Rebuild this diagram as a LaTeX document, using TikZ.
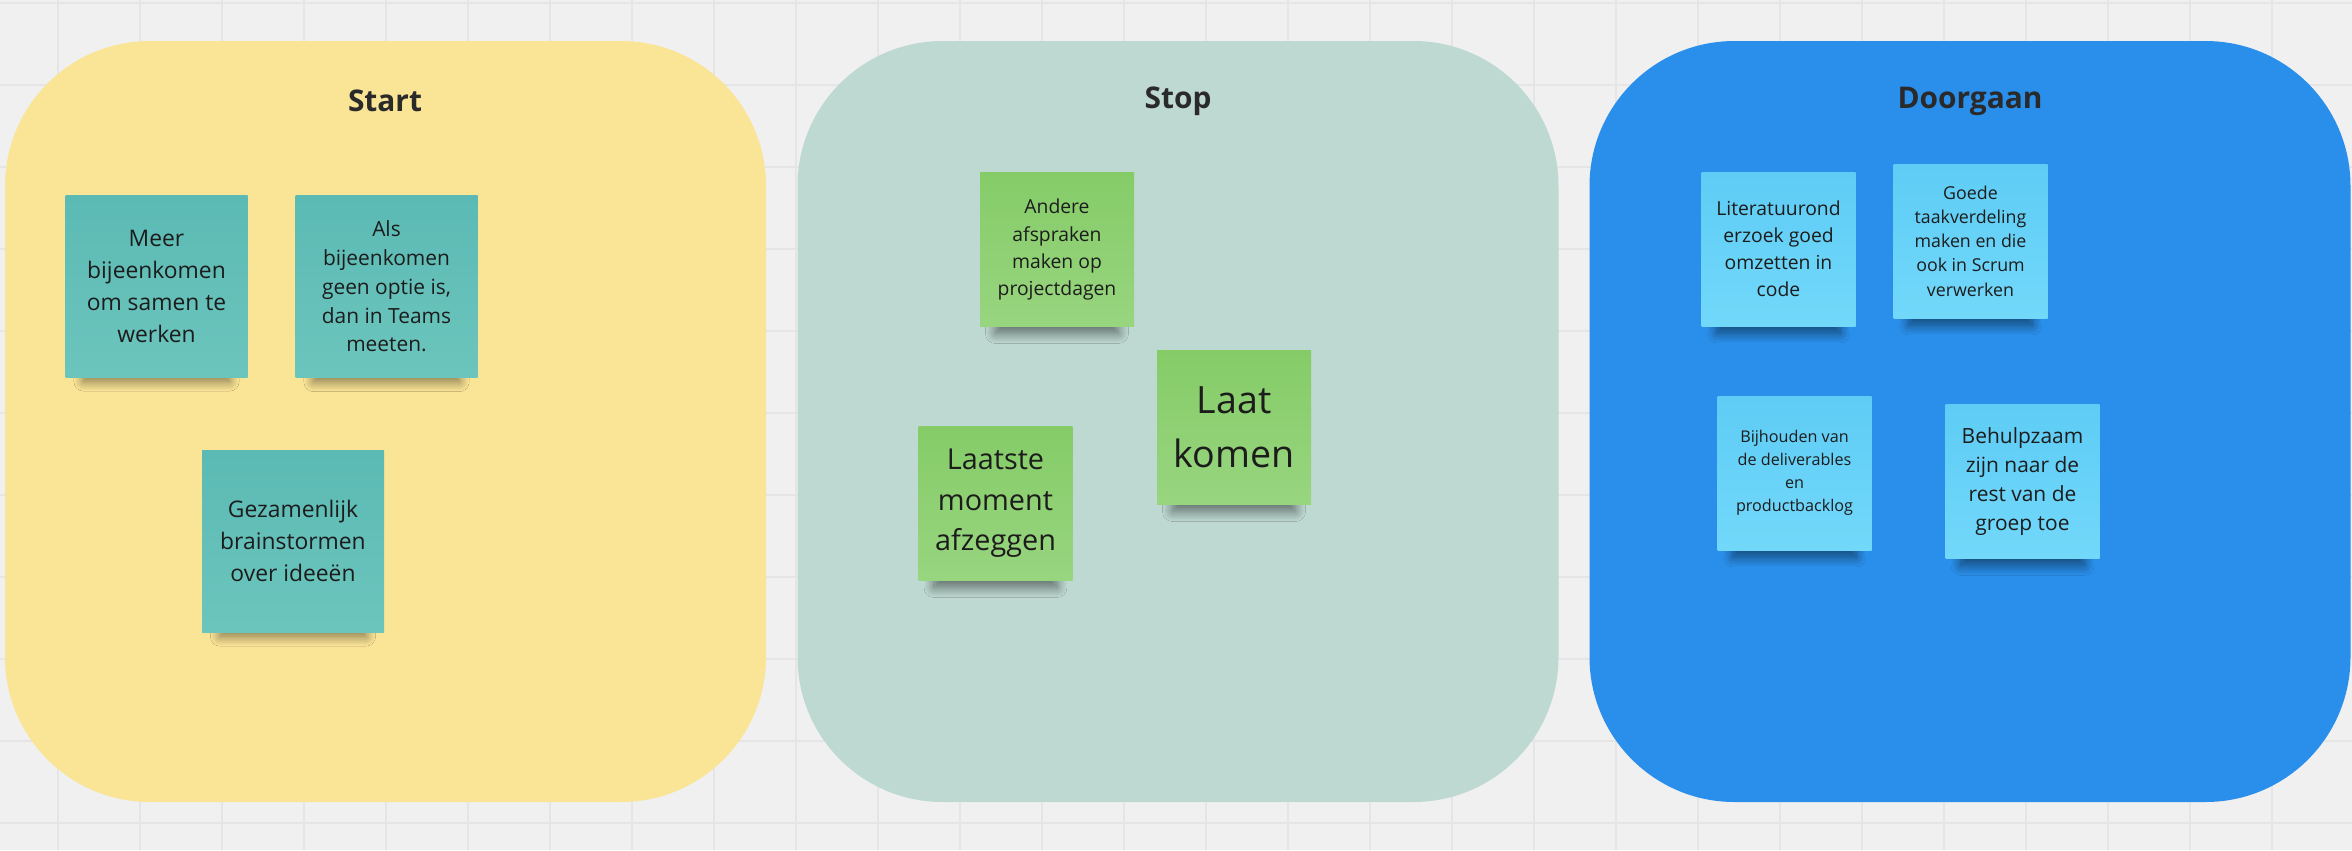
\documentclass[tikz,border=0pt]{standalone}
\usepackage{fontspec}
\setmainfont{Open Sans}
\usetikzlibrary{shadows,shadows.blur}

\definecolor{board}{HTML}{F0F0F0}
\definecolor{gridgray}{HTML}{E5E5E5}
\definecolor{startfill}{HTML}{FAE496}
\definecolor{stopfill}{HTML}{BED9D1}
\definecolor{goonfill}{HTML}{2A8FEA}
\definecolor{tealtop}{HTML}{5BBAB4}
\definecolor{tealbot}{HTML}{6CC5BD}
\definecolor{greentop}{HTML}{85CC68}
\definecolor{greenbot}{HTML}{98D57F}
\definecolor{bluetop}{HTML}{5ECCF5}
\definecolor{bluebot}{HTML}{72D8FA}
\definecolor{titleink}{HTML}{2A2A2A}
\definecolor{noteink}{HTML}{1C1C1C}

\newcommand\notesize[2]{\fontsize{#1}{#2}\selectfont}

\begin{document}
\begin{tikzpicture}[x=0.1mm, y=-0.1mm, every node/.style={font=\notesize{6}{8.4}},
	gridline/.style={draw=gridgray, line width=0.55pt},
	panel/.style={rounded corners=14.5mm, minimum width=76.1mm, minimum height=76.1mm, inner sep=0pt},
	heading/.style={font=\notesize{8.5}{10}\bfseries, text=titleink},
	note/.style={inner sep=0pt, align=center, text=noteink, minimum width=15.4mm, minimum height=15.4mm,
		blur shadow={shadow xshift=0pt, shadow yshift=-8pt, shadow scale=0.8, shadow opacity=50, shadow blur radius=3.5pt, shadow blur steps=20}},
	startnote/.style={note, top color=tealtop, bottom color=tealbot, minimum width=18.2mm, minimum height=18.2mm},
	stopnote/.style={note, top color=greentop, bottom color=greenbot},
	goonnote/.style={note, top color=bluetop, bottom color=bluebot}]
	\useasboundingbox[fill=board] (0,0) rectangle (2352,850);
	% board grid
	\foreach \gx in {0,...,27} \draw[gridline] ({58+82*\gx},0) -- ({58+82*\gx},850);
	\foreach \gy in {0,...,10} \draw[gridline] (0,{3+82*\gy}) -- (2352,{3+82*\gy});
	% the three columns
	\node[panel, fill=startfill] (startcol) at (385.5,421.5) {};
	\node[panel, fill=stopfill] (stopcol) at (1178,421.5) {};
	\node[panel, fill=goonfill] (gooncol) at (1970,421.5) {};
	\node[heading] (starttitle) at (385,101) {Start};
	\node[heading] (stoptitle) at (1178,101) {Stop};
	\node[heading] (goontitle) at (1970,101) {Doorgaan};
	% Start
	\node[startnote, font=\notesize{6.5}{9.1}] (meer) at (156.5,286) {Meer\\bijeenkomen\\om samen te\\werken};
	\node[startnote, font=\notesize{5.95}{8.2}] (teams) at (386.5,286.5) {Als\\bijeenkomen\\geen optie is,\\dan in Teams\\meeten.};
	\node[startnote, font=\notesize{6.5}{9.1}] (brainstorm) at (293,541) {Gezamenlijk\\brainstormen\\over ideeën};
	% Stop
	\node[stopnote, font=\notesize{5.5}{7.7}] (afspraken) at (1057,249.5) {Andere\\afspraken\\maken op\\projectdagen};
	\node[stopnote, font=\notesize{8.2}{11.5}] (afzeggen) at (995.5,503.5) {Laatste\\moment\\afzeggen};
	\node[stopnote, font=\notesize{10.7}{15.4}] (laat) at (1234,427.5) {Laat\\komen};
	% Doorgaan
	\node[goonnote, font=\notesize{5.5}{7.7}] (literatuur) at (1778.5,249) {Literatuurond\\erzoek goed\\omzetten in\\code};
	\node[goonnote, font=\notesize{5.06}{6.9}] (taken) at (1970.5,241) {Goede\\taakverdeling\\maken en die\\ook in Scrum\\verwerken};
	\node[goonnote, font=\notesize{4.6}{6.5}] (backlog) at (1794.5,473) {Bijhouden van\\de deliverables\\en\\productbacklog};
	\node[goonnote, font=\notesize{5.96}{8.3}] (behulp) at (2022.5,481.5) {Behulpzaam\\zijn naar de\\rest van de\\groep toe};
\end{tikzpicture}
\end{document}
